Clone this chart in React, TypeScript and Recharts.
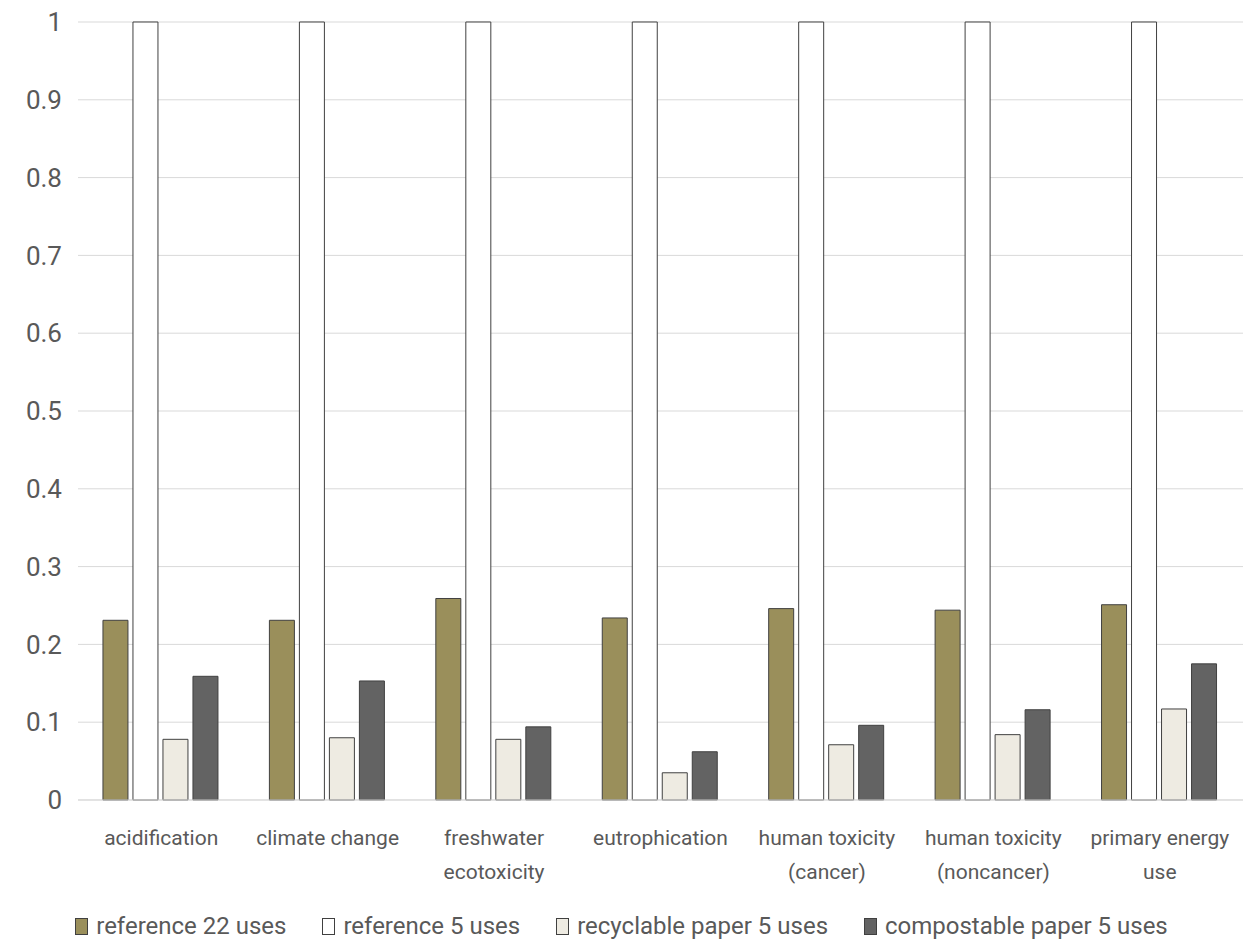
import React from 'react';
import { BarChart, Bar, XAxis, YAxis, CartesianGrid, Legend } from 'recharts';

const categories = [
  'acidification',
  'climate change',
  'freshwater\necotoxicity',
  'eutrophication',
  'human toxicity\n(cancer)',
  'human toxicity\n(noncancer)',
  'primary energy\nuse',
];
const reference22 = [0.231, 0.231, 0.259, 0.234, 0.246, 0.244, 0.251];
const reference5 = [1, 1, 1, 1, 1, 1, 1];
const recyclable5 = [0.078, 0.08, 0.078, 0.035, 0.071, 0.084, 0.117];
const compostable5 = [0.159, 0.153, 0.094, 0.062, 0.096, 0.116, 0.175];
const yTicks = [0, 0.1, 0.2, 0.3, 0.4, 0.5, 0.6, 0.7, 0.8, 0.9, 1];

const series = [
  { key: 'ref22', name: 'reference 22 uses', color: '#9a8f5b' },
  { key: 'ref5', name: 'reference 5 uses', color: '#ffffff' },
  { key: 'recyc', name: 'recyclable paper 5 uses', color: '#eeebe2' },
  { key: 'compost', name: 'compostable paper 5 uses', color: '#636363' },
];

const data = categories.map((c, i) => ({
  name: c,
  ref22: reference22[i],
  ref5: reference5[i],
  recyc: recyclable5[i],
  compost: compostable5[i],
}));

const FONT = '"Roboto", "Noto Sans", sans-serif';
const TEXT = '#595959';

const CategoryTick = ({ x, y, payload }: any) => {
  const lines = String(payload.value).split('\n');
  return (
    <g transform={`translate(${x},${y})`}>
      {lines.map((l: string, i: number) => (
        <text key={i} x={0} y={37 + i * 34} textAnchor="middle" fill={TEXT} fontSize={21} fontFamily={FONT}>
          {l}
        </text>
      ))}
    </g>
  );
};

const LegendBox = () => (
  <div style={{ display: 'flex', justifyContent: 'center', gap: 36, marginTop: 22, fontFamily: FONT, fontSize: 24, color: TEXT }}>
    {series.map(s => (
      <div key={s.key} style={{ display: 'flex', alignItems: 'center', gap: 8 }}>
        <div style={{ width: 11, height: 15, background: s.color, border: '1px solid #404040' }} />
        <span>{s.name}</span>
      </div>
    ))}
  </div>
);

export default function App() {
  return (
    <div style={{ position: 'absolute', left: 0, top: 0, width: 1243, height: 944, background: '#fff' }}>
      <BarChart
        width={1243}
        height={944}
        data={data}
        margin={{ top: 22, right: 0, left: 0, bottom: 0 }}
        barCategoryGap="15%"
        barGap={5}
      >
        <CartesianGrid horizontal vertical={false} stroke="#d9d9d9" />
        <XAxis
          dataKey="name"
          interval={0}
          tick={<CategoryTick />}
          tickLine={false}
          axisLine={{ stroke: '#d9d9d9' }}
          height={90}
        />
        <YAxis
          domain={[0, 1]}
          ticks={yTicks}
          width={78}
          axisLine={false}
          tickLine={false}
          tick={{ fill: TEXT, fontSize: 26, fontFamily: FONT }}
          tickFormatter={(v: number) => String(v)}
          dx={-8}
        />
        <Legend verticalAlign="bottom" height={54} content={<LegendBox />} />
        {series.map(s => (
          <Bar key={s.key} dataKey={s.key} name={s.name} fill={s.color} stroke="#404040" strokeWidth={1} isAnimationActive={false} />
        ))}
      </BarChart>
    </div>
  );
}
